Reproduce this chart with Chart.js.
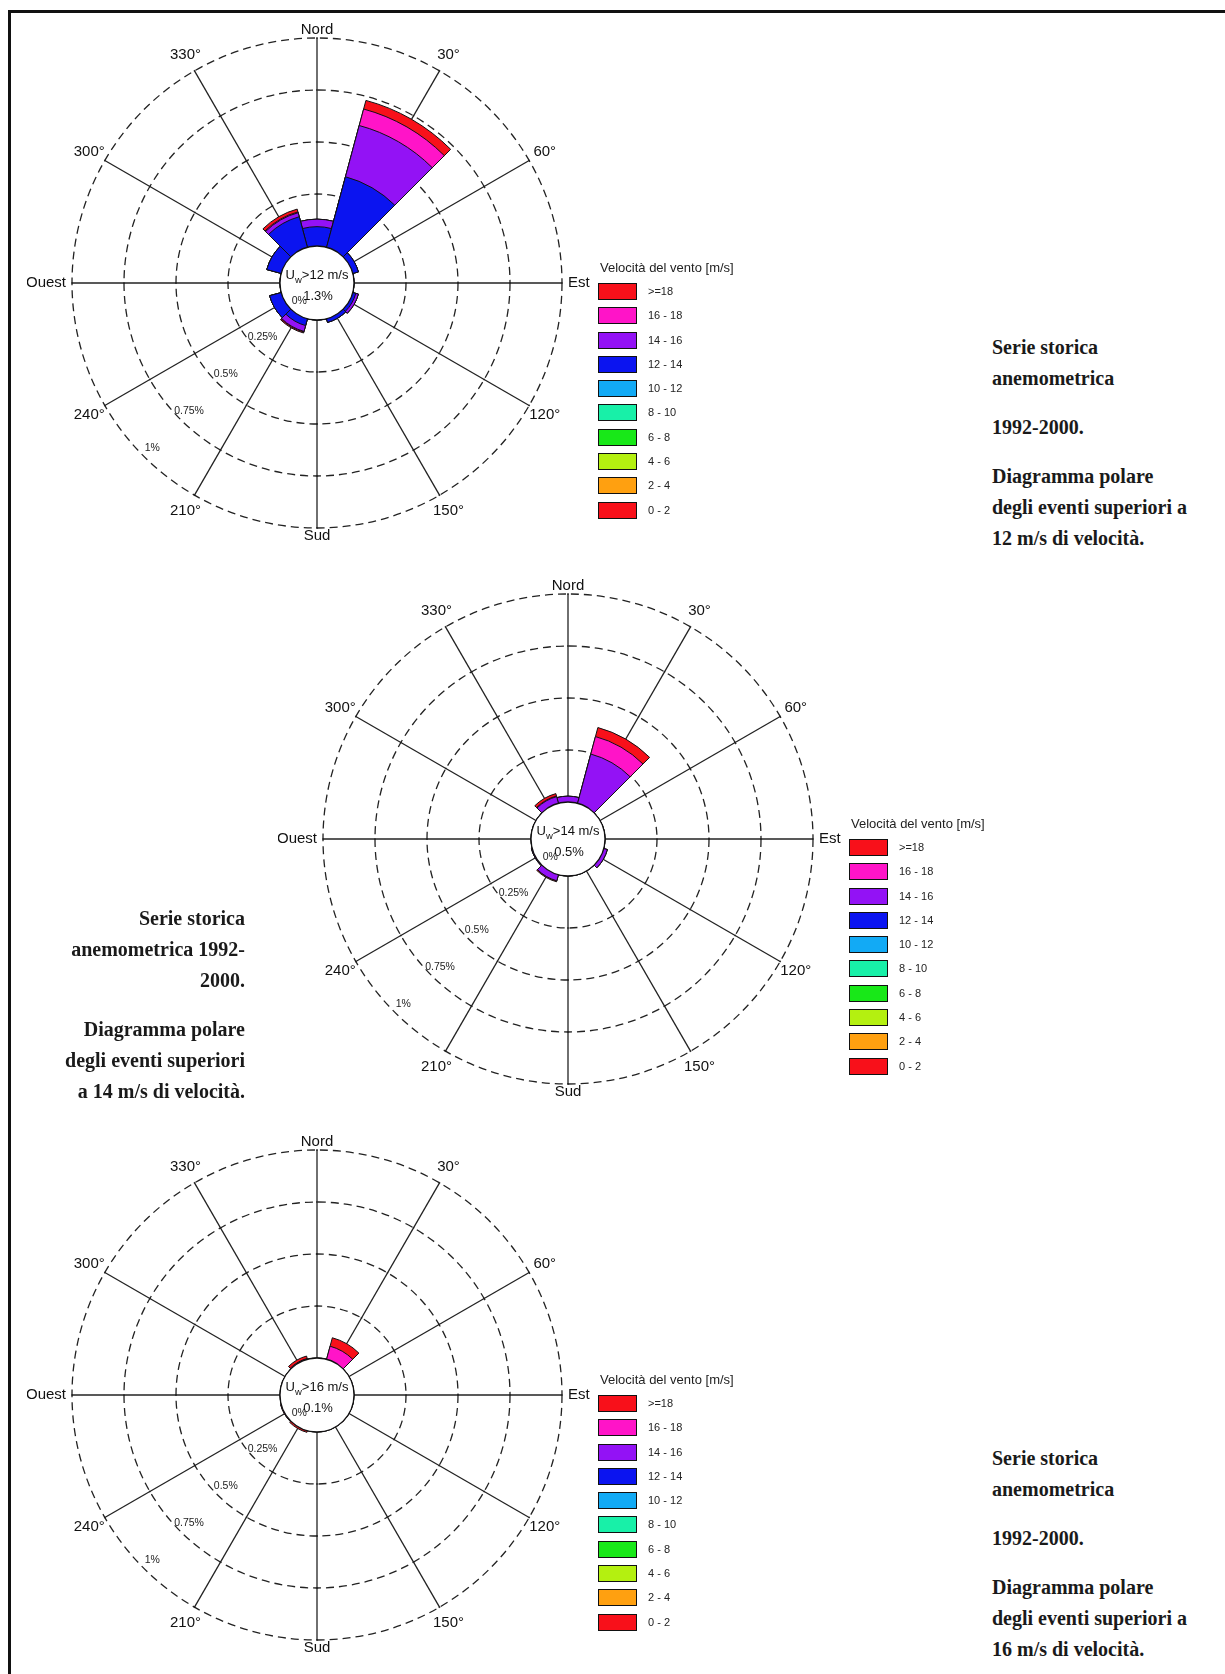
<!DOCTYPE html>
<html lang="it">

<head>
  <meta charset="UTF-8" />
  <title>Diagramma polare - serie storica anemometrica 1992-2000</title>
  <script src="https://cdn.jsdelivr.net/npm/chart.js"></script>
  <style>
    body { margin: 0; width: 1225px; height: 1674px; position: relative; overflow: hidden; background: #fff;
      font-family: "Liberation Sans", Arial, sans-serif; color: #111; }
    .frame { position: absolute; left: 8px; top: 10px; width: 1300px; height: 1800px;
      border-top: 3px solid #111; border-left: 3px solid #111; z-index: 5; }
    canvas.rose { position: absolute; }
    .legend { position: absolute; z-index: 3; }
    .lg-title { font-size: 13px; height: 18px; line-height: 18px; margin: 0 0 6px 2px; color: #222; white-space: nowrap; }
    .lg-row { height: 24.3px; display: flex; align-items: flex-start; }
    .lg-box { width: 39px; height: 17px; box-sizing: border-box; border: 1.5px solid #111; }
    .lg-lab { font-size: 11px; line-height: 17px; margin-left: 11px; color: #222; }
    .note { position: absolute; font-family: "Liberation Serif", serif; font-weight: bold; font-size: 20px;
      line-height: 31px; color: #1a1a1a; }
    .note p { margin: 0 0 18px 0; }
  </style>
</head>

<body>
  <div class="frame"></div>

  <canvas id="rose12" class="rose" width="580" height="580" style="left:27px; top:-7px"></canvas>
  <canvas id="rose14" class="rose" width="580" height="580" style="left:278px; top:549px"></canvas>
  <canvas id="rose16" class="rose" width="580" height="580" style="left:27px; top:1105px"></canvas>

  <div class="legend" id="legend12" style="left:598px; top:259px"></div>
  <div class="legend" id="legend14" style="left:849px; top:815px"></div>
  <div class="legend" id="legend16" style="left:598px; top:1371px"></div>

  <div class="note" style="left:992px; top:332px">
    <p>Serie storica<br>anemometrica</p>
    <p>1992-2000.</p>
    <p>Diagramma polare<br>degli eventi superiori a<br>12 m/s di velocità.</p>
  </div>
  <div class="note" style="right:980px; top:903px; text-align:right">
    <p>Serie storica<br>anemometrica 1992-<br>2000.</p>
    <p>Diagramma polare<br>degli eventi superiori<br>a 14 m/s di velocità.</p>
  </div>
  <div class="note" style="left:992px; top:1443px">
    <p>Serie storica<br>anemometrica</p>
    <p>1992-2000.</p>
    <p>Diagramma polare<br>degli eventi superiori a<br>16 m/s di velocità.</p>
  </div>

  <script>
    // directions (degrees from north, clockwise) and their labels
    const DIRECTIONS = [0, 30, 60, 90, 120, 150, 180, 210, 240, 270, 300, 330];
    const DIR_LABELS = ['Nord', '30°', '60°', 'Est', '120°', '150°', 'Sud', '210°', '240°', 'Ouest', '300°', '330°'];

    // frequency rings (% of time)
    const RING_VALUES = [0, 0.25, 0.5, 0.75, 1];
    const RING_LABELS = ['0%', '0.25%', '0.5%', '0.75%', '1%'];

    // speed classes, legend order
    const SPEED_LABELS = ['>=18', '16 - 18', '14 - 16', '12 - 14', '10 - 12', '8 - 10', '6 - 8', '4 - 6', '2 - 4', '0 - 2'];
    const SPEED_COLORS = ['#f8101a', '#ff14c8', '#9312f5', '#0b14f0', '#12aaf5', '#18f0a8', '#18e818', '#b4f010', '#ffa010', '#f8101a'];

    // U_w > 12 m/s, frequency (%) per direction and class
    const R12_12_14 = [0.093, 0.351, 0.028, 0, 0.015, 0.018, 0, 0.034, 0.058, 0, 0.072, 0.152];
    const R12_14_16 = [0.036, 0.255, 0, 0, 0.013, 0, 0, 0.029, 0, 0, 0, 0.020];
    const R12_16_18 = [0, 0.082, 0, 0, 0, 0, 0, 0.003, 0, 0, 0, 0.004];
    const R12_GE18 = [0, 0.043, 0, 0, 0, 0, 0, 0.005, 0, 0, 0, 0.014];

    // U_w > 14 m/s
    const R14_14_16 = [0.028, 0.245, 0, 0, 0.018, 0, 0, 0.030, 0.004, 0, 0, 0.033];
    const R14_16_18 = [0, 0.087, 0, 0, 0, 0, 0, 0, 0, 0, 0, 0.003];
    const R14_GE18 = [0, 0.045, 0, 0, 0, 0, 0, 0.005, 0, 0, 0, 0.012];

    // U_w > 16 m/s
    const R16_16_18 = [0, 0.065, 0, 0, 0, 0, 0, 0, 0.003, 0, 0, 0.004];
    const R16_GE18 = [0, 0.042, 0, 0, 0, 0, 0, 0.008, 0, 0, 0, 0.012];

    const HOLE = 37 / 208; // empty centre, in % units

    // stacked look: cumulative sums, smallest on top (dataset 0 is drawn last)
    function stackedDatasets(bands, classIdx) {
      let cum = DIRECTIONS.map(() => 0);
      return bands.map((vals, k) => {
        cum = cum.map((c, i) => c + vals[i]);
        return {
          data: cum.slice(),
          backgroundColor: SPEED_COLORS[classIdx[k]],
          borderColor: '#111',
          borderWidth: 1
        };
      });
    }

    function polar(scale, deg, r) {
      const a = deg * Math.PI / 180;
      return { x: scale.xCenter + r * Math.sin(a), y: scale.yCenter - r * Math.cos(a) };
    }

    const roseDecor = {
      id: 'roseDecor',
      beforeDatasetsDraw(chart) {
        const s = chart.scales.r, ctx = chart.ctx;
        const r0 = s.getDistanceFromCenterForValue(0);
        const r1 = s.getDistanceFromCenterForValue(1);
        ctx.save();
        ctx.strokeStyle = '#222';
        ctx.lineWidth = 1.3;
        DIRECTIONS.forEach(deg => {
          const p0 = polar(s, deg, r0), p1 = polar(s, deg, r1);
          ctx.beginPath();
          ctx.moveTo(p0.x, p0.y);
          ctx.lineTo(p1.x, p1.y);
          ctx.stroke();
          RING_VALUES.slice(1).forEach(v => {
            const r = s.getDistanceFromCenterForValue(v);
            const a = polar(s, deg - 1.6 * 30 / r, r), b = polar(s, deg + 1.6 * 30 / r, r);
            ctx.beginPath();
            ctx.moveTo(a.x, a.y);
            ctx.lineTo(b.x, b.y);
            ctx.stroke();
          });
        });
        // direction labels
        ctx.fillStyle = '#111';
        ctx.font = '15px "Liberation Sans", Arial, sans-serif';
        ctx.textBaseline = 'middle';
        DIRECTIONS.forEach((deg, i) => {
          let p;
          if (deg === 90) { ctx.textAlign = 'left'; p = polar(s, deg, r1 + 6); }
          else if (deg === 270) { ctx.textAlign = 'right'; p = polar(s, deg, r1 + 6); }
          else if (deg === 0 || deg === 180) { ctx.textAlign = 'center'; p = polar(s, deg, r1 + 8); }
          else { ctx.textAlign = 'center'; p = polar(s, deg, r1 + 18); }
          ctx.fillText(DIR_LABELS[i], p.x, p.y);
        });
        ctx.restore();
      },
      afterDatasetsDraw(chart, args, opts) {
        const s = chart.scales.r, ctx = chart.ctx;
        const r0 = s.getDistanceFromCenterForValue(0);
        ctx.save();
        ctx.beginPath();
        ctx.arc(s.xCenter, s.yCenter, r0, 0, Math.PI * 2);
        ctx.fillStyle = '#fff';
        ctx.fill();
        ctx.strokeStyle = '#111';
        ctx.lineWidth = 1.3;
        ctx.stroke();

        // ring labels along the 225° direction
        ctx.fillStyle = '#222';
        ctx.font = '10.5px "Liberation Sans", Arial, sans-serif';
        ctx.textAlign = 'center';
        ctx.textBaseline = 'middle';
        RING_VALUES.forEach((v, i) => {
          const p = polar(s, 225, s.getDistanceFromCenterForValue(v) - 12);
          ctx.fillText(RING_LABELS[i], p.x, p.y);
        });

        // centre text: U_w > threshold, total share
        const big = '13px "Liberation Sans", Arial, sans-serif';
        const small = '9.5px "Liberation Sans", Arial, sans-serif';
        const rest = '>' + opts.speed + ' m/s';
        ctx.font = big;
        const wU = ctx.measureText('U').width, wR = ctx.measureText(rest).width;
        ctx.font = small;
        const wW = ctx.measureText('w').width;
        let x = s.xCenter - (wU + wW + wR) / 2;
        const y = s.yCenter - 8;
        ctx.textAlign = 'left';
        ctx.fillStyle = '#111';
        ctx.font = big; ctx.fillText('U', x, y); x += wU;
        ctx.font = small; ctx.fillText('w', x, y + 5); x += wW;
        ctx.font = big; ctx.fillText(rest, x, y);
        ctx.textAlign = 'center';
        ctx.fillText(opts.total, s.xCenter + 1, s.yCenter + 13);
        ctx.restore();
      }
    };

    function makeRose(id, bands, classIdx, speed, total) {
      return new Chart(document.getElementById(id), {
        type: 'polarArea',
        data: { labels: DIR_LABELS, datasets: stackedDatasets(bands, classIdx) },
        options: {
          responsive: false,
          animation: false,
          events: [],
          layout: { padding: 45 },
          plugins: {
            legend: { display: false },
            tooltip: { enabled: false },
            roseDecor: { speed, total }
          },
          scales: {
            r: {
              min: -HOLE,
              max: 1,
              startAngle: -15,
              afterBuildTicks: sc => { sc.ticks = RING_VALUES.map(v => ({ value: v })); },
              ticks: { display: false },
              grid: {
                circular: true,
                lineWidth: 1.3,
                color: c => (c.tick && c.tick.value === 0) ? 'rgba(0,0,0,0)' : '#222'
              },
              border: { dash: [8, 5] },
              angleLines: { display: false },
              pointLabels: { display: false }
            }
          }
        },
        plugins: [roseDecor]
      });
    }

    makeRose('rose12', [R12_12_14, R12_14_16, R12_16_18, R12_GE18], [3, 2, 1, 0], 12, '1.3%');
    makeRose('rose14', [R14_14_16, R14_16_18, R14_GE18], [2, 1, 0], 14, '0.5%');
    makeRose('rose16', [R16_16_18, R16_GE18], [1, 0], 16, '0.1%');

    // legends
    const legendHtml = '<div class="lg-title">Velocità del vento [m/s]</div>' +
      SPEED_LABELS.map((l, i) =>
        '<div class="lg-row"><span class="lg-box" style="background:' + SPEED_COLORS[i] + '"></span>' +
        '<span class="lg-lab">' + l + '</span></div>').join('');
    ['legend12', 'legend14', 'legend16'].forEach(id => { document.getElementById(id).innerHTML = legendHtml; });
  </script>
</body>

</html>
